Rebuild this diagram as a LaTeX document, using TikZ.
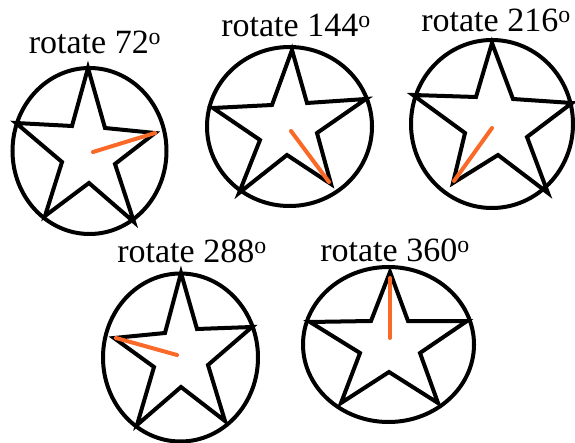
\documentclass[tikz,border=0pt]{standalone}
\usepackage{fontspec}
\setmainfont{Liberation Serif}
\definecolor{rayorange}{RGB}{250,105,40}
\begin{document}
\begin{tikzpicture}[x=1pt,y=-1pt,
  ring/.style={draw=black,line width=4pt},
  starline/.style={draw=black,line width=4pt,line join=miter},
  ray/.style={draw=rayorange,line width=4pt,line cap=round},
  lbl/.style={anchor=base,inner sep=0pt,font=\fontsize{34}{36}\selectfont}]
\useasboundingbox (0,0) rectangle (575,443);
% ---- star 1: rotate 72
\draw[ring] (89.5,151) ellipse [x radius=77, y radius=83];
\draw[starline] (88,68) -- (105,128) -- (155,133) -- (115,164) -- (134,222) -- (89,183) -- (45,216) -- (62,162) -- (16,123) -- (72,126) -- cycle;
\coordinate (c1) at (93,152); \coordinate (v1) at (155,133);
\draw[ray] (c1) -- (v1);
\node[lbl] (l1) at (95,54) {rotate 72\textsuperscript{o}};
% ---- star 2: rotate 144
\draw[ring] (289.5,126.5) ellipse [x radius=82.5, y radius=79.5];
\draw[starline] (292,50) -- (307,103) -- (366,99) -- (317,133) -- (331,184) -- (287,155) -- (239,193) -- (260,140) -- (213,108) -- (272,105) -- cycle;
\coordinate (c2) at (291,131); \coordinate (v2) at (329,182);
\draw[ray] (c2) -- (v2);
\node[lbl] (l2) at (296,37) {rotate 144\textsuperscript{o}};
% ---- star 3: rotate 216
\draw[ring] (492,124) ellipse [x radius=81, y radius=84];
\draw[starline] (492,43) -- (513,99) -- (572,103) -- (527,137) -- (548,193) -- (498,155) -- (453,183) -- (465,133) -- (413,95) -- (476,97) -- cycle;
\coordinate (c3) at (492,128); \coordinate (v3) at (454,181);
\draw[ray] (c3) -- (v3);
\node[lbl] (l3) at (496,32) {rotate 216\textsuperscript{o}};
% ---- star 4: rotate 288
\draw[ring] (180.5,357.5) ellipse [x radius=77.5, y radius=84];
\draw[starline] (181,273) -- (197,329) -- (252,327) -- (208,365) -- (225,421) -- (181,387) -- (137,425) -- (154,367) -- (114,338) -- (165,333) -- cycle;
\coordinate (c4) at (177,355); \coordinate (v4) at (116,338);
\draw[ray] (c4) -- (v4);
\node[lbl] (l4) at (192,263) {rotate 288\textsuperscript{o}};
% ---- star 5: rotate 360
\draw[ring] (388.5,344.5) ellipse [x radius=85.5, y radius=77.5];
\draw[starline] (390,272) -- (408,321) -- (467,321) -- (420,353) -- (438,403) -- (389,372) -- (341,403) -- (360,353) -- (310,322) -- (371,321) -- cycle;
\coordinate (c5) at (390,338); \coordinate (v5) at (390,278);
\draw[ray] (c5) -- (v5);
\node[lbl] (l5) at (395,262) {rotate 360\textsuperscript{o}};
\end{tikzpicture}
\end{document}
